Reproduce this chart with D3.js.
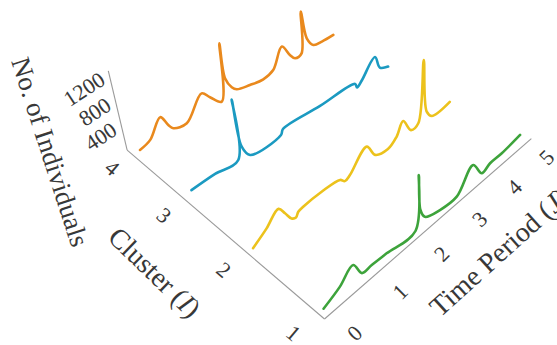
<!DOCTYPE html>
<html>
<head>
<meta charset="utf-8">
<script src="https://cdn.jsdelivr.net/npm/d3@7"></script>
<style>
  body { margin: 0; background: #fff; }
  svg { display: block; font-family: "Liberation Serif", "Times New Roman", serif; }
</style>
</head>
<body>
<svg id="chart"></svg>
<script>
  // Data: [time period, no. of individuals] per cluster
  const clusters = [1, 2, 3, 4];
  const timeTicks = [0, 1, 2, 3, 4, 5];
  const valueTicks = [400, 800, 1200];

  const cluster1 = [[0,158],[0.35,270],[0.65,417],[0.82,196],[1.04,191],[1.38,174],[2.074,136],[2.163,930],
    [2.2,393],[2.31,231],[2.7,133],[3.15,115],[3.59,400],[3.85,146],[4.09,194],[4.44,193],[5,238]];
  const cluster2 = [[0,175],[0.31,312],[0.59,463],[0.71,333],[0.83,189],[0.925,154],[0.986,214],[1.1,233],
    [1.53,252],[1.97,224],[2.08,151],[2.21,186],[2.66,431],[2.86,207],[3.2,147],[3.44,241],[3.63,415],
    [3.84,176],[4.054,197],[4.214,1141],[4.3,286],[4.45,152],[5,162]];
  const cluster3 = [[0,291],[0.51,302],[1.025,283],[1.074,1199],[1.137,446],[1.29,243],[2.035,237],
    [2.096,309],[3.05,289],[4.02,273],[4.07,193],[4.22,263],[4.62,505],[4.75,275],[5,198]];
  const cluster4 = [[0,234],[0.24,293],[0.53,540],[0.66,356],[0.75,263],[1.05,218],[1.48,540],[1.65,406],
    [1.9,231],[2.045,1137],[2.055,564],[2.18,364],[2.29,286],[2.62,229],[2.97,193],[3.25,248],[3.54,549],
    [3.73,334],[3.86,229],[4.05,246],[4.13,941],[4.23,449],[4.4,271],[4.65,242],[5,239]];

  const seriesData = [cluster1, cluster2, cluster3, cluster4];
  const seriesColors = ["#3da33b", "#ecc21c", "#1b9ac1", "#e9891d"];

  const width = 557;
  const height = 345;
  const axisColor = "#9a9a9a";
  const textColor = "#383838";

  // axis limits
  const timeMax = 5.4;
  const clusterMax = 4.34;
  const valueMax = 1280;

  // perspective: floor corners of the data box (t=0/5, cluster=1/4) and vertical vanishing point
  const floor = { p00: [324.5, 319], p10: [519, 149.4], p01: [143.2, 163.9], p11: [334.2, 48] };
  const vanish = [424, 1400];

  const tScale = d3.scaleLinear().domain([0, 5]).range([0, 1]);
  const cScale = d3.scaleLinear().domain([1, 4]).range([0, 1]);
  const vScale = d3.scaleLinear().domain([0, 1200]).range([0, -0.07165]);

  // square -> quad homography
  const H = (() => {
    const [x0, y0] = floor.p00, [x1, y1] = floor.p10, [x2, y2] = floor.p11, [x3, y3] = floor.p01;
    const dx1 = x1 - x2, dx2 = x3 - x2, dx3 = x0 - x1 + x2 - x3;
    const dy1 = y1 - y2, dy2 = y3 - y2, dy3 = y0 - y1 + y2 - y3;
    const den = dx1 * dy2 - dx2 * dy1;
    const g = (dx3 * dy2 - dx2 * dy3) / den;
    const h = (dx1 * dy3 - dx3 * dy1) / den;
    return {
      a: x1 - x0 + g * x1, b: x3 - x0 + h * x3, c: x0,
      d: y1 - y0 + g * y1, e: y3 - y0 + h * y3, f: y0,
      g: g, h: h
    };
  })();

  function project(t, c, v) {
    const s = tScale(t), u = cScale(c), k = vScale(v);
    const X = H.a * s + H.b * u + H.c + k * vanish[0];
    const Y = H.d * s + H.e * u + H.f + k * vanish[1];
    const W = H.g * s + H.h * u + 1 + k;
    return [X / W, Y / W];
  }

  const svg = d3.select("#chart")
    .attr("width", width)
    .attr("height", height);

  svg.append("rect").attr("width", width).attr("height", height).attr("fill", "#fff");

  const straight = d3.line();
  const smooth = d3.line().curve(d3.curveCatmullRom.alpha(0.5));

  // axes
  const axes = svg.append("g").attr("stroke", axisColor).attr("stroke-width", 1.1).attr("fill", "none");
  axes.append("path").attr("d", straight([project(0, 1, 0), project(timeMax, 1, 0)]));
  axes.append("path").attr("d", straight([project(0, 1, 0), project(0, clusterMax, 0)]));
  axes.append("path").attr("d", straight([project(0, clusterMax, 0), project(0, clusterMax, valueMax)]));

  // series, back to front
  const order = [3, 2, 1, 0];
  svg.append("g")
    .selectAll("path")
    .data(order)
    .join("path")
    .attr("fill", "none")
    .attr("stroke", i => seriesColors[i])
    .attr("stroke-width", 2.6)
    .attr("stroke-linejoin", "round")
    .attr("stroke-linecap", "round")
    .attr("d", i => smooth(seriesData[i].map(([t, v]) => project(t, clusters[i], v))));

  // tick labels
  const labels = svg.append("g").attr("fill", textColor).attr("font-size", 22);

  labels.selectAll(".tlab")
    .data(timeTicks)
    .join("text")
    .attr("class", "tlab")
    .attr("text-anchor", "middle")
    .attr("dominant-baseline", "central")
    .attr("transform", t => {
      const [x, y] = project(t, 1, 0);
      return `translate(${x + 30 - 0.5 * t},${y + 14 - 1.2 * t}) rotate(-45)`;
    })
    .text(d => d);

  labels.selectAll(".clab")
    .data(clusters)
    .join("text")
    .attr("class", "clab")
    .attr("text-anchor", "middle")
    .attr("dominant-baseline", "central")
    .attr("transform", c => {
      const [x, y] = project(0, c, 0);
      return `translate(${x - 31},${y + 14 - 3.4 * (c - 1)}) rotate(40)`;
    })
    .text(d => d);

  labels.selectAll(".vlab")
    .data(valueTicks)
    .join("text")
    .attr("class", "vlab")
    .attr("text-anchor", "end")
    .attr("dominant-baseline", "central")
    .attr("transform", v => {
      const [x, y] = project(0, clusterMax, v);
      return `translate(${x - 7},${y + 1}) rotate(-33)`;
    })
    .text(d => d);

  // axis titles
  const titles = svg.append("g").attr("fill", textColor).attr("font-size", 27);

  titles.append("text")
    .attr("text-anchor", "middle")
    .attr("dominant-baseline", "central")
    .attr("transform", "translate(50,152) rotate(72)")
    .text("No. of Individuals");

  const ct = titles.append("text")
    .attr("font-size", 28)
    .attr("text-anchor", "middle")
    .attr("dominant-baseline", "central")
    .attr("transform", "translate(155,272) rotate(44)");
  ct.append("tspan").text("Cluster (");
  ct.append("tspan").attr("font-style", "italic").text("I");
  ct.append("tspan").text(")");

  const tt = titles.append("text")
    .attr("font-size", 28)
    .attr("transform", "translate(440,318) rotate(-42)");
  tt.append("tspan").text("Time Period (");
  tt.append("tspan").attr("font-style", "italic").text("J");
  tt.append("tspan").text(")");
</script>
</body>
</html>
